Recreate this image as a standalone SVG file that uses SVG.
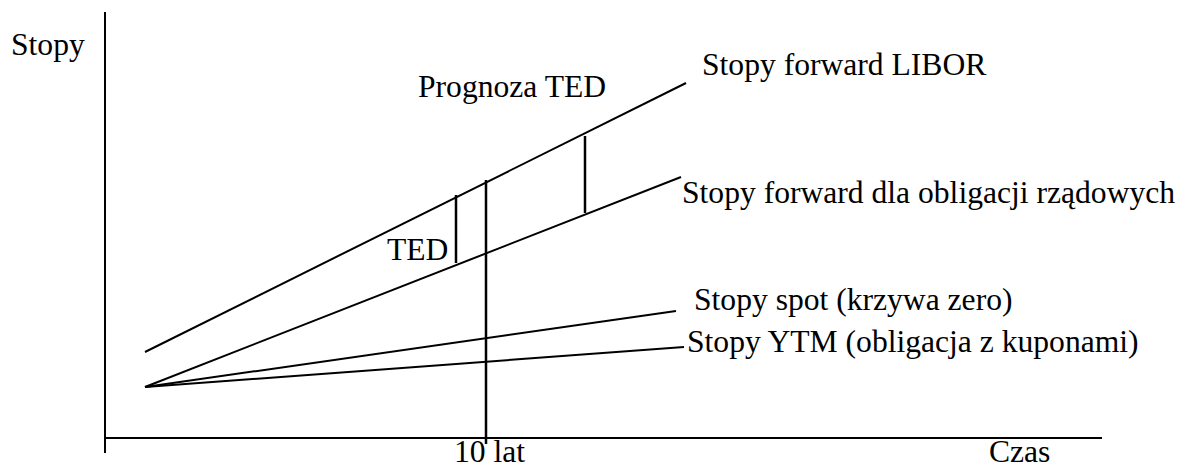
<svg xmlns="http://www.w3.org/2000/svg" width="1182" height="470" viewBox="0 0 1182 470">
<style>
.ln{stroke:#000;stroke-width:2;fill:none}
.vl{stroke:#000;stroke-width:2.5;fill:none}
.t{font-family:"Liberation Serif","Times New Roman",serif;font-size:31.6px;fill:#000}
</style>
<rect width="1182" height="470" fill="#fff"/>
<g id="axes">
<line class="ln" x1="105" y1="12" x2="105" y2="453"/>
<line class="ln" x1="105" y1="438" x2="1102" y2="438"/>
</g>
<g id="connectors">
<line class="ln" x1="145" y1="352" x2="686" y2="83"/>
<line class="ln" x1="145" y1="387" x2="681" y2="177"/>
<line class="ln" x1="145" y1="387" x2="676" y2="311"/>
<line class="ln" x1="145" y1="387" x2="684" y2="347"/>
<line class="vl" x1="486" y1="180" x2="486" y2="444"/>
<line class="vl" x1="456" y1="195" x2="456" y2="263"/>
<line class="vl" x1="585" y1="136" x2="585" y2="213"/>
</g>
<g id="labels">
<text class="t" x="11" y="55">Stopy</text>
<text class="t" x="418" y="97">Prognoza TED</text>
<text class="t" x="702" y="75">Stopy forward LIBOR</text>
<text class="t" x="682" y="203">Stopy forward dla obligacji rządowych</text>
<text class="t" x="694" y="310">Stopy spot (krzywa zero)</text>
<text class="t" x="687" y="352">Stopy YTM (obligacja z kuponami)</text>
<text class="t" x="387" y="260">TED</text>
<text class="t" x="454" y="462">10 lat</text>
<text class="t" x="989" y="462">Czas</text>
</g>
</svg>
